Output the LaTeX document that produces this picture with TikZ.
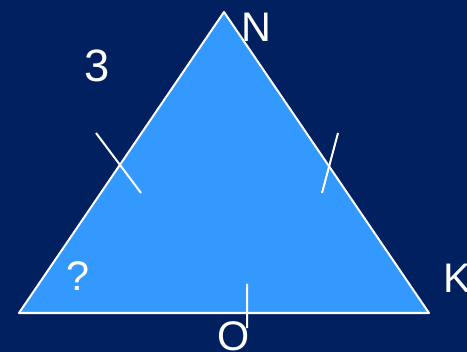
\documentclass[tikz,border=0pt]{standalone}
\usepackage{fontspec}
\setmainfont{Liberation Sans}
\begin{document}
\begin{tikzpicture}[x=.75pt,y=-.75pt,line join=round,line cap=round,
                    etichetta/.style={white,inner sep=0pt,anchor=base,
                                      font=\fontsize{31}{37}\selectfont}]
  \definecolor{triSfondo}{HTML}{00205F}
  \definecolor{triAzzurro}{HTML}{3399FF}
  \fill[triSfondo] (0,0) rectangle (467,352);
  \useasboundingbox (0,0) rectangle (467,352);

  % Vertici del triangolo.
  \coordinate (vN) at (224,12);
  \coordinate (vP) at (19,313);
  \coordinate (vK) at (429,313);
  \path[fill=triAzzurro,draw=white,line width=1.5pt] (vN) -- (vP) -- (vK) -- cycle;

  % Segni di uguaglianza sui lati.
  \draw[white,line width=1.5pt,line cap=butt]
    (96,133) -- (141,193)
    (338,133) -- (322,193)
    (247,284) -- (247,328);

  \node[etichetta] (lN) at (256.5,42) {N};
  \node[etichetta,font=\fontsize{34}{40}\selectfont] (l3) at (97,82) {3};
  \node[etichetta] (lq) at (78,291) {?};
  \node[etichetta] (lK) at (457,292) {K};
  \node[etichetta] (lO) at (233.5,350) {O};
\end{tikzpicture}
\end{document}
